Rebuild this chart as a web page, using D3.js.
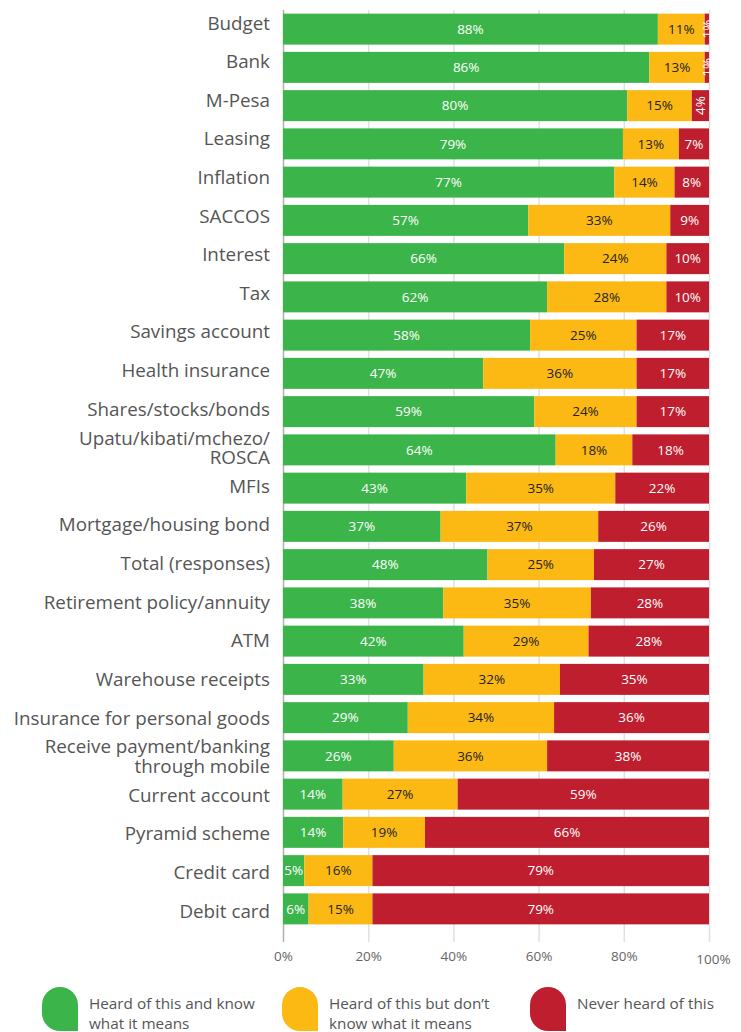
<!DOCTYPE html>
<html>
<head>
<meta charset="utf-8">
<script src="https://cdn.jsdelivr.net/npm/d3@7"></script>
<style>
  body { margin: 0; background: #fff; }
  .chart__label { font-family: "Open Sans", sans-serif; font-size: 18.8px; fill: #555; }
  .chart__value { font-family: "Open Sans", sans-serif; font-size: 13.5px; text-anchor: middle; }
  .chart__axis text { font-family: "Open Sans", sans-serif; font-size: 13.5px; fill: #666; }
  .chart__axis line { stroke: #e0e0e0; stroke-width: 1.5; }
  .chart__legend { font-family: "Open Sans", sans-serif; font-size: 15.3px; fill: #555; }
</style>
</head>
<body>
<div id="chart"></div>
<script>
// Categories, top to bottom
const categories = [
  "Budget", "Bank", "M-Pesa", "Leasing", "Inflation", "SACCOS", "Interest", "Tax",
  "Savings account", "Health insurance", "Shares/stocks/bonds", "Upatu/kibati/mchezo/\nROSCA",
  "MFIs", "Mortgage/housing bond", "Total (responses)", "Retirement policy/annuity", "ATM",
  "Warehouse receipts", "Insurance for personal goods", "Receive payment/banking\nthrough mobile",
  "Current account", "Pyramid scheme", "Credit card", "Debit card"
];

// Heard of this and know what it means (%)
const know = [88, 86, 80, 79, 77, 57, 66, 62, 58, 47, 59, 64, 43, 37, 48, 38, 42, 33, 29, 26, 14, 14, 5, 6];
// Heard of this but don't know what it means (%)
const heard = [11, 13, 15, 13, 14, 33, 24, 28, 25, 36, 24, 18, 35, 37, 25, 35, 29, 32, 34, 36, 27, 19, 16, 15];
// Never heard of this (%)
const never = [1, 1, 4, 7, 8, 9, 10, 10, 17, 17, 17, 18, 22, 26, 27, 28, 28, 35, 36, 38, 59, 66, 79, 79];

const seriesKeys = ["know", "heard", "never"];
const seriesNames = ["Heard of this and know\nwhat it means", "Heard of this but don\u2019t\nknow what it means", "Never heard of this"];
const tickValues = [0, 0.2, 0.4, 0.6, 0.8, 1];

const colors = { know: "#3bb54a", heard: "#fdb913", never: "#be1e2d" };
const textColors = { know: "#fff", heard: "#222", never: "#fff" };

const W = 741, H = 1032;
const x0 = 283, x1 = 709;
const yTop = 10, yBottom = 928, axisY = 942;

const svg = d3.select("#chart").append("svg")
  .attr("width", W)
  .attr("height", H);

// Build rows for the stack
const rows = categories.map((c, i) => ({ cat: c, know: know[i], heard: heard[i], never: never[i] }));

const stack = d3.stack()
  .keys(seriesKeys)
  .offset(d3.stackOffsetExpand);
const layers = stack(rows);

const x = d3.scaleLinear().domain([0, 1]).range([x0, x1]);
const y = d3.scaleBand()
  .domain(categories)
  .range([yTop, yBottom])
  .paddingInner(0.19)
  .paddingOuter(0.095);

// Category labels sit on a slightly wider spacing than the bars
const yLabel = d3.scalePoint()
  .domain(categories)
  .range([22, 910]);

// Grid / axis
const xAxis = d3.axisBottom(x)
  .tickValues(tickValues)
  .tickFormat(d3.format(".0%"))
  .tickSize(-(axisY - yTop))
  .tickPadding(8);

const gX = svg.append("g")
  .attr("class", "chart__axis")
  .attr("transform", `translate(0,${axisY})`)
  .call(xAxis);
gX.select(".domain").remove();
gX.selectAll(".tick text").attr("dy", d => d === 1 ? "1.0em" : "0.8em")
  .attr("dx", d => d === 1 ? 4 : 0);
gX.selectAll(".tick line").filter(d => d === 0).style("stroke", "#b0b0b0");

// Bars
const gBars = svg.append("g");
layers.forEach(layer => {
  const key = layer.key;
  gBars.append("g")
    .attr("fill", colors[key])
    .selectAll("rect")
    .data(layer)
    .join("rect")
    .attr("x", d => x(d[0]))
    .attr("y", d => y(d.data.cat))
    .attr("width", d => x(d[1]) - x(d[0]))
    .attr("height", y.bandwidth());

  // Value labels
  gBars.append("g")
    .selectAll("text")
    .data(layer)
    .join("text")
    .attr("class", "chart__value")
    .attr("fill", textColors[key])
    .attr("transform", d => {
      const cx = (x(d[0]) + x(d[1])) / 2;
      const cy = y(d.data.cat) + y.bandwidth() / 2;
      const w = x(d[1]) - x(d[0]);
      return `translate(${cx},${cy})` + (w < 19 ? " rotate(-90)" : "");
    })
    .attr("dy", "0.35em")
    .text(d => d.data[key] + "%");
});

// Category labels (one text per line)
const gLabels = svg.append("g");
categories.forEach(c => {
  const lines = c.split("\n");
  const lh = 19.5;
  const top = yLabel(c) - (lines.length - 1) * lh / 2 + 1;
  lines.forEach((ln, j) => {
    gLabels.append("text")
      .attr("class", "chart__label")
      .attr("text-anchor", "end")
      .attr("x", 270)
      .attr("y", top + j * lh)
      .attr("dy", "0.35em")
      .text(ln);
  });
});

// Legend
const legendX = [42, 282, 530];
const marker = (mx, my) => {
  const w = 36, h = 44, r = 18;
  return `M${mx + w},${my + h} L${mx + w},${my + r} A${r},${r} 0 0 0 ${mx},${my + r} ` +
    `L${mx},${my + h - r} A${r},${r} 0 0 0 ${mx + r},${my + h} Z`;
};
seriesKeys.forEach((key, i) => {
  const g = svg.append("g");
  g.append("path")
    .attr("d", marker(legendX[i], 987))
    .attr("fill", colors[key]);
  seriesNames[i].split("\n").forEach((ln, j) => {
    g.append("text")
      .attr("class", "chart__legend")
      .attr("x", legendX[i] + 47)
      .attr("y", 1009 + j * 20)
      .text(ln);
  });
});
</script>
</body>
</html>
